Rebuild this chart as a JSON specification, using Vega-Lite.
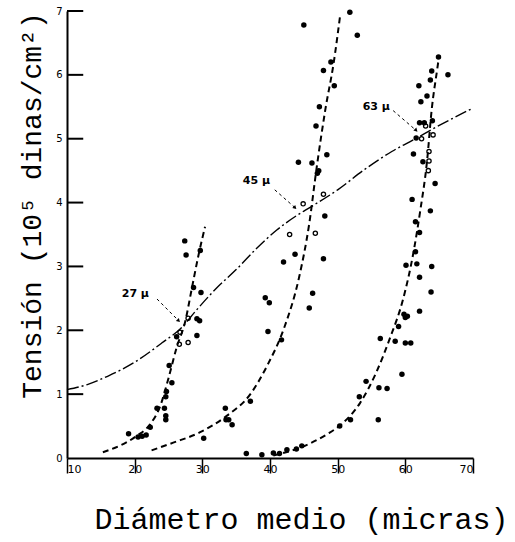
{
  "$schema": "https://vega.github.io/schema/vega-lite/v6.json",
  "width": 406,
  "height": 447,
  "autosize": "none",
  "padding": {"left": 67, "top": 11, "right": 42, "bottom": 84},
  "background": "white",
  "config": {"view": {"stroke": null}, "font": "DejaVu Sans"},
  "datasets": {
    "filled": [
      {"x":19.1,"y":0.38},{"x":20.5,"y":0.33},{"x":21.1,"y":0.34},{"x":21.7,"y":0.36},{"x":22.3,"y":0.48},{"x":23.3,"y":0.78},{"x":24.4,"y":0.78},{"x":24.6,"y":0.6},{"x":24.6,"y":0.66},{"x":24.6,"y":0.96},{"x":24.7,"y":1.04},{"x":25.1,"y":1.45},{"x":25.5,"y":1.18},{"x":26.2,"y":1.9},{"x":27.4,"y":3.4},{"x":27.6,"y":3.18},{"x":28.7,"y":2.67},{"x":29.2,"y":2.18},{"x":29.6,"y":2.15},{"x":29.2,"y":1.92},{"x":29.8,"y":2.59},{"x":29.7,"y":3.25},
      {"x":30.2,"y":0.31},{"x":33.4,"y":0.78},{"x":33.5,"y":0.6},{"x":33.9,"y":0.6},{"x":34.4,"y":0.52},{"x":37.1,"y":0.89},{"x":39.3,"y":2.51},{"x":39.9,"y":2.43},{"x":39.7,"y":1.98},{"x":41.7,"y":1.85},{"x":42.0,"y":3.07},{"x":43.7,"y":3.19},{"x":44.2,"y":4.63},{"x":45.0,"y":6.78},{"x":45.8,"y":2.35},{"x":46.3,"y":2.58},{"x":46.2,"y":4.62},{"x":47.2,"y":4.5},{"x":47.0,"y":4.46},{"x":47.3,"y":5.5},{"x":46.8,"y":5.2},{"x":47.9,"y":6.07},{"x":48.4,"y":4.75},{"x":48.1,"y":3.79},{"x":47.9,"y":3.12},{"x":49.0,"y":6.2},{"x":49.5,"y":5.83},{"x":51.8,"y":6.98},{"x":52.9,"y":6.62},
      {"x":36.5,"y":0.07},{"x":38.8,"y":0.05},{"x":40.5,"y":0.08},{"x":41.4,"y":0.07},{"x":42.5,"y":0.13},{"x":43.9,"y":0.14},{"x":44.7,"y":0.19},{"x":50.3,"y":0.5},{"x":51.9,"y":0.6},{"x":53.2,"y":0.96},{"x":54.2,"y":1.2},{"x":56.0,"y":0.6},{"x":56.1,"y":1.1},{"x":56.3,"y":1.87},{"x":57.3,"y":1.09},{"x":58.5,"y":1.83},{"x":59.0,"y":2.06},{"x":59.5,"y":1.31},{"x":59.8,"y":2.25},{"x":60.0,"y":2.2},{"x":60.3,"y":2.22},{"x":60.0,"y":1.8},{"x":60.8,"y":1.8},{"x":60.1,"y":3.02},{"x":61.0,"y":4.05},{"x":61.5,"y":3.7},{"x":62.1,"y":3.53},{"x":61.5,"y":3.23},{"x":61.7,"y":3.04},{"x":62.1,"y":2.83},{"x":62.1,"y":2.3},{"x":63.7,"y":3.87},{"x":63.9,"y":3.0},{"x":63.8,"y":2.6},{"x":64.4,"y":4.3},{"x":61.2,"y":4.76},{"x":62.6,"y":4.64},{"x":62.0,"y":5.83},{"x":62.3,"y":5.58},{"x":63.2,"y":5.67},{"x":63.7,"y":5.92},{"x":63.9,"y":6.06},{"x":64.9,"y":6.28},{"x":66.3,"y":6.0},{"x":62.1,"y":5.25},{"x":62.8,"y":5.25},{"x":64.0,"y":5.28},{"x":61.6,"y":5.01}
    ],
    "open": [
      {"x":27.9,"y":2.19},{"x":26.7,"y":1.97},{"x":26.6,"y":1.78},{"x":27.9,"y":1.81},{"x":42.9,"y":3.5},{"x":44.9,"y":3.98},{"x":46.7,"y":3.52},{"x":47.9,"y":4.13},{"x":62.4,"y":5.0},{"x":63.0,"y":5.2},{"x":64.1,"y":5.06},{"x":63.5,"y":4.8},{"x":63.5,"y":4.65},{"x":63.4,"y":4.5}
    ],
    "main": [
      {"x":10,"y":1.07},{"x":13,"y":1.15},{"x":16,"y":1.28},{"x":20,"y":1.5},{"x":24,"y":1.8},{"x":27,"y":2.05},{"x":29,"y":2.3},{"x":32,"y":2.65},{"x":35,"y":2.95},{"x":38,"y":3.28},{"x":41,"y":3.57},{"x":44,"y":3.8},{"x":46,"y":3.93},{"x":50,"y":4.2},{"x":54,"y":4.52},{"x":58,"y":4.8},{"x":61.5,"y":5.0},{"x":64,"y":5.15},{"x":70,"y":5.48}
    ],
    "curves": [
      {"s":"27","x":15.3,"y":0.09},{"s":"27","x":20.2,"y":0.34},{"s":"27","x":22.3,"y":0.53},{"s":"27","x":23.8,"y":0.82},{"s":"27","x":25.0,"y":1.25},{"s":"27","x":26.2,"y":1.73},{"s":"27","x":27.5,"y":2.15},{"s":"27","x":28.4,"y":2.63},{"s":"27","x":29.4,"y":3.16},{"s":"27","x":30.4,"y":3.62},
      {"s":"45","x":22.5,"y":0.12},{"s":"45","x":25.7,"y":0.24},{"s":"45","x":29.6,"y":0.4},{"s":"45","x":33.6,"y":0.66},{"s":"45","x":37.1,"y":1.0},{"s":"45","x":39.6,"y":1.45},{"s":"45","x":42.1,"y":2.04},{"s":"45","x":44.3,"y":2.83},{"s":"45","x":45.8,"y":3.67},{"s":"45","x":46.9,"y":4.55},{"s":"45","x":48.2,"y":5.47},{"s":"45","x":49.4,"y":6.18},{"s":"45","x":50.4,"y":6.96},
      {"s":"63","x":40.5,"y":0.04},{"s":"63","x":44.4,"y":0.16},{"s":"63","x":48.4,"y":0.37},{"s":"63","x":50.8,"y":0.55},{"s":"63","x":53.3,"y":0.86},{"s":"63","x":55.7,"y":1.34},{"s":"63","x":57.7,"y":1.87},{"s":"63","x":59.7,"y":2.5},{"s":"63","x":61.2,"y":3.22},{"s":"63","x":62.2,"y":3.87},{"s":"63","x":63.2,"y":4.64},{"s":"63","x":63.9,"y":5.46},{"s":"63","x":64.7,"y":6.08},{"s":"63","x":65.0,"y":6.3}
    ],
    "labels": [
      {"x":20.1,"y":2.57,"t":"27 μ"},{"x":38.0,"y":4.33,"t":"45 μ"},{"x":55.7,"y":5.49,"t":"63 μ"}
    ],
    "leaders": [
      {"x":23.3,"y":2.49,"x2":26.5,"y2":2.15},{"x":40.7,"y":4.2,"x2":43.7,"y2":3.92},{"x":58.2,"y":5.44,"x2":61.6,"y2":5.13}
    ],
    "yticks": [
      {"x":10,"x2":12.4,"y":1},{"x":10,"x2":12.4,"y":2},{"x":10,"x2":12.4,"y":3},{"x":10,"x2":12.4,"y":4},{"x":10,"x2":12.4,"y":5},{"x":10,"x2":12.4,"y":6},{"x":10,"x2":12.4,"y":7}
    ]
  },
  "encoding": {
    "x": {"field": "x", "type": "quantitative", "scale": {"domain": [10, 70], "nice": false, "zero": false},
      "axis": {"values": [10,20,30,40,50,60,70], "ticks": true, "tickSize": 15, "tickWidth": 1.5, "tickColor": "black", "domainColor": "black", "domainWidth": 2, "labelPadding": -10, "labelFontSize": 11, "labelColor": "black", "grid": false,
        "encode": {"ticks": {"update": {"y2": {"value": -15}}}},
        "title": "Diámetro medio (micras)", "titleFont": "Liberation Mono", "titleFontSize": 30, "titleFontWeight": "normal", "titleColor": "black", "titleX": 234, "titleY": 70, "titleAlign": "center", "titleBaseline": "alphabetic"}},
    "y": {"field": "y", "type": "quantitative", "scale": {"domain": [0, 7], "nice": false},
      "axis": {"values": [0,1,2,3,4,5,6,7], "ticks": false, "domainColor": "black", "domainWidth": 2, "labelPadding": 5, "labelFontSize": 10, "labelColor": "black", "grid": false,
        "title": "Tensión (10⁵ dinas/cm²)", "titleFont": "Liberation Mono", "titleFontSize": 28, "titleFontWeight": "normal", "titleColor": "black", "titleX": -35, "titleY": 194, "titleAngle": -90, "titleAlign": "center", "titleBaseline": "middle"}}
  },
  "layer": [
    {"data": {"name": "yticks"}, "mark": {"type": "rule", "color": "black", "strokeWidth": 2}, "encoding": {"x2": {"field": "x2"}}},
    {"data": {"name": "main"}, "mark": {"type": "line", "interpolate": "monotone", "color": "black", "strokeWidth": 1.4, "strokeDash": [12, 3, 2, 3]}},
    {"data": {"name": "curves"}, "mark": {"type": "line", "interpolate": "monotone", "color": "black", "strokeWidth": 2, "strokeDash": [6, 4]}, "encoding": {"detail": {"field": "s"}}},
    {"data": {"name": "leaders"}, "mark": {"type": "rule", "color": "black", "strokeWidth": 1, "strokeDash": [3, 3]}, "encoding": {"x2": {"field": "x2"}, "y2": {"field": "y2"}}},
    {"data": {"name": "leaders"}, "mark": {"type": "point", "shape": "triangle-down", "angle": -45, "filled": true, "color": "black", "opacity": 1, "size": 18}, "encoding": {"x": {"field": "x2", "type": "quantitative"}, "y": {"field": "y2", "type": "quantitative"}}},
    {"data": {"name": "filled"}, "mark": {"type": "circle", "color": "black", "opacity": 1, "size": 30}},
    {"data": {"name": "open"}, "mark": {"type": "point", "shape": "circle", "filled": false, "color": "black", "strokeWidth": 1.3, "opacity": 1, "size": 18}},
    {"data": {"name": "labels"}, "mark": {"type": "text", "fontSize": 11, "fontWeight": "bold", "color": "black", "align": "center", "baseline": "middle"}, "encoding": {"text": {"field": "t"}}}
  ]
}
